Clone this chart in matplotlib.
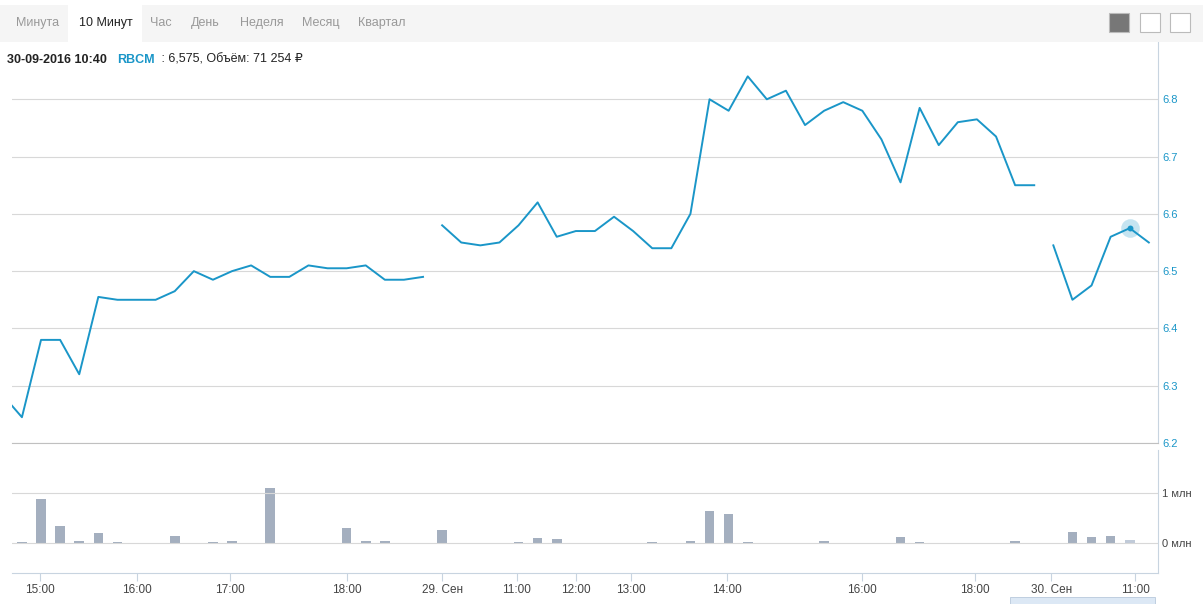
import matplotlib.pyplot as plt
import matplotlib.patches as mpatches
import numpy as np

# price sessions (10-min bars, ordinal x)
s1_x = [-0.52] + list(range(0, 22))
s1_y = [6.265, 6.245, 6.38, 6.38, 6.32, 6.455, 6.45, 6.45, 6.45, 6.465, 6.5, 6.485,
        6.5, 6.51, 6.49, 6.49, 6.51, 6.505, 6.505, 6.51, 6.485, 6.485, 6.49]
s2_x = list(range(22, 54))
s2_y = [6.58, 6.55, 6.545, 6.55, 6.58, 6.62, 6.56, 6.57, 6.57, 6.595, 6.57, 6.54,
        6.54, 6.6, 6.8, 6.78, 6.84, 6.8, 6.815, 6.755, 6.78, 6.795, 6.78, 6.73,
        6.655, 6.785, 6.72, 6.76, 6.765, 6.735, 6.65, 6.65]
s3_x = list(range(54, 60))
s3_y = [6.545, 6.45, 6.475, 6.56, 6.575, 6.55]

volume = [0.03, 0.88, 0.34, 0.05, 0.2, 0.03, 0.01, 0, 0.15, 0, 0.03, 0.05, 0.01, 1.1,
          0, 0, 0.01, 0.3, 0.05, 0.05, 0, 0,
          0.26, 0.01, 0.01, 0, 0.03, 0.11, 0.09, 0, 0, 0, 0, 0.03, 0, 0.05, 0.64, 0.58,
          0.03, 0, 0.01, 0.01, 0.05, 0, 0, 0.01, 0.13, 0.03, 0.01, 0, 0, 0.01, 0.05, 0,
          0, 0.22, 0.13, 0.15, 0.06, 0.01]

tick_pos = [0.94, 6.0, 10.9, 17.0, 22, 25.9, 29, 31.9, 36.9, 44, 49.9, 53.9, 58.3]
tick_lbl = ["15:00", "16:00", "17:00", "18:00", "29. Сен", "11:00", "12:00", "13:00",
            "14:00", "16:00", "18:00", "30. Сен", "11:00"]

blue = "#1a96c8"
grid = "#d8d8d8"
plt.rcParams['font.family'] = ['Liberation Sans', 'DejaVu Sans']

fig = plt.figure(figsize=(12.03, 6.04), dpi=100)
W, H = 1203, 604

def fr(x0, y0, x1, y1):
    return [x0 / W, 1 - y1 / H, (x1 - x0) / W, (y1 - y0) / H]

# toolbar
fig.patches.append(mpatches.Rectangle((0, 1 - 42 / H), 1, 37 / H, transform=fig.transFigure,
                                      facecolor="#f5f5f5", edgecolor="none"))
fig.patches.append(mpatches.Rectangle((68 / W, 1 - 42 / H), 74 / W, 37 / H, transform=fig.transFigure,
                                      facecolor="white", edgecolor="none"))
tabs = ["Минута", "10 Минут", "Час", "День", "Неделя", "Месяц", "Квартал"]
tab_x = [16, 79, 150, 191, 240, 302, 358]
for t, xx in zip(tabs, tab_x):
    fig.text(xx / W, 1 - 23 / H, t, fontsize=9, va="center",
             color="#222222" if t == "10 Минут" else "#999999")
for i, xx in enumerate([1109, 1140, 1170]):
    fig.patches.append(mpatches.Rectangle((xx / W, 1 - 32 / H), 20 / W, 19 / H, transform=fig.transFigure,
                                          facecolor="#777777" if i == 0 else "white",
                                          edgecolor="#bbbbbb", lw=0.8))

fig.text(7 / W, 1 - 60 / H, "30-09-2016 10:40", fontsize=9, fontweight="bold", va="center", color="#222222")
fig.text(117 / W, 1 - 60 / H, "RBCM", fontsize=9, fontweight="bold", va="center", color=blue)
fig.text(158 / W, 1 - 60 / H, " : 6,575, Объём: 71 254 ₽", fontsize=9, va="center", color="#222222")

# price panel
ax = fig.add_axes(fr(12, 42, 1158, 443))
for xs, ys in [(s1_x, s1_y), (s2_x, s2_y), (s3_x, s3_y)]:
    ax.plot(xs, ys, color=blue, lw=1.4)
ax.scatter([s3_x[4]], [s3_y[4]], s=180, color=blue, alpha=0.25, lw=0)
ax.scatter([s3_x[4]], [s3_y[4]], s=18, color=blue, lw=0)
ax.set_xlim(-0.52, 59.48)
ax.set_ylim(6.2, 6.9)
ax.set_yticks([6.2, 6.3, 6.4, 6.5, 6.6, 6.7, 6.8])
ax.yaxis.tick_right()
ax.tick_params(axis="y", length=0, labelsize=8, colors=blue, pad=3)
ax.set_xticks([])
ax.grid(axis="y", color=grid, lw=0.8)
for s in ["top", "left"]:
    ax.spines[s].set_visible(False)
ax.spines["bottom"].set_color("#c0c0c0")
ax.spines["right"].set_color("#c8d4e0")

# volume panel
vx = np.arange(len(volume))
vax = fig.add_axes(fr(12, 450, 1158, 573))
cols = ["#a4afbf"] * len(volume)
cols[58] = "#c0cad8"
vax.bar(vx, volume, width=0.5, color=cols)
vax.set_xlim(-0.52, 59.48)
vax.set_ylim(-0.6, 1.86)
vax.set_yticks([0, 1])
vax.set_yticklabels(["0 млн", "1 млн"])
vax.yaxis.tick_right()
vax.tick_params(axis="y", length=0, labelsize=8, colors="#444444", pad=3)
vax.grid(axis="y", color=grid, lw=0.8)
vax.set_xticks(tick_pos)
vax.set_xticklabels(tick_lbl)
vax.tick_params(axis="x", length=6, color="#c8d4e0", labelsize=8.5, colors="#444444", pad=2)
for lab in vax.get_xticklabels():
    lab.set_color("#444444")
for s in ["top", "left"]:
    vax.spines[s].set_visible(False)
vax.spines["right"].set_color("#c8d4e0")
vax.spines["bottom"].set_color("#c8d4e0")

# navigator strip
fig.patches.append(mpatches.Rectangle((1010 / W, 0), 145 / W, 7 / H, transform=fig.transFigure,
                                      facecolor="#dce8f5", edgecolor="#b8c8dc", lw=0.6))

fig.savefig("out.png", dpi=100)
